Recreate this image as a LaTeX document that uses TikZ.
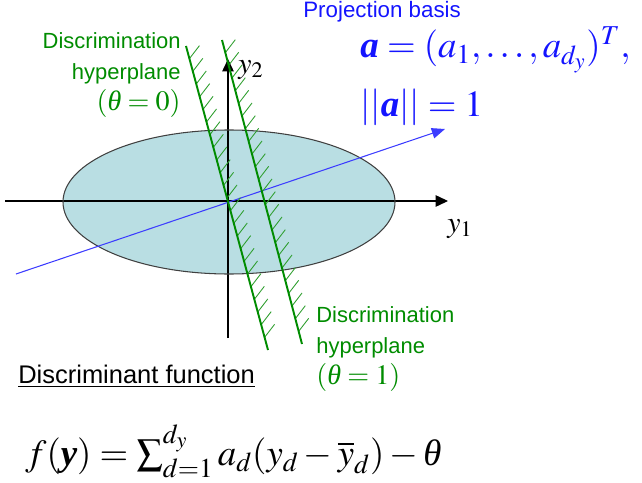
\documentclass[tikz,border=0pt]{standalone}
\usepackage{mathptmx}
\usepackage{amsmath}
\usepackage[no-math]{fontspec}
\setsansfont{Liberation Sans}
\newfontfamily\tnrfont{Liberation Serif}
\usetikzlibrary{arrows.meta,calc}
\usepackage{xcolor}
\definecolor{dhGreen}{HTML}{008C00}
\definecolor{dhHatch}{HTML}{2E9E2E}
\definecolor{dhBlue}{HTML}{1414FF}
\definecolor{dhLine}{HTML}{3C3CFF}
\definecolor{dhFill}{HTML}{B9DEE3}
\definecolor{dhEdge}{HTML}{404040}
\newcommand{\bfit}[1]{\mbox{\tnrfont\bfseries\itshape #1}}
\newcommand{\thit}{\mbox{\tnrfont\itshape θ}}

\begin{document}
\begin{tikzpicture}[x=0.02cm, y=-0.02cm,
  axis/.style={-{Triangle[length=7pt,width=6.5pt]}, line width=0.6pt, black},
  basis/.style={-{Triangle[length=7.5pt,width=6pt]}, line width=0.6pt, dhLine},
  plane/.style={line width=1.1pt, dhGreen},
  hatch/.style={line width=0.5pt, dhHatch},
  lbl/.style={inner sep=0pt, font={\fontsize{12.5}{17.6}\selectfont\sffamily}, text=dhGreen},
  mth/.style={inner sep=0pt, font={\fontsize{#1}{#1}\selectfont}}]
\useasboundingbox (0,0) rectangle (642,483);
% axes and data cloud
\coordinate (o) at (228,201);
\coordinate (xl) at (5,201);
\coordinate (xr) at (448,201);
\coordinate (yb) at (228,338);
\coordinate (yt) at (228,59);
\fill[dhFill] (229,202) ellipse (166 and 72);
\draw[axis] (xl) -- (xr);
\draw[axis] (yb) -- (yt);
\draw[dhEdge, line width=0.6pt] (229,202) ellipse (166 and 72);
\node[mth=17, anchor=base west] (ytwo) at (238,73) {$y_2$};
\node[mth=17, anchor=base west] (yone) at (447,232) {$y_1$};
% projection direction
\coordinate (bl) at (16,274);
\coordinate (br) at (445,129);
\draw[basis] (bl) -- (br);
% hyperplanes with hatching
\coordinate (p0a) at (186,46);
\coordinate (p0b) at (268,350);
\coordinate (p1a) at (222,40);
\coordinate (p1b) at (302,344);
\foreach \t in {1,...,23}{
  \draw[hatch] ($(p0a)!{\t/24}!(p0b)$) -- ++(10,-13);
  \draw[hatch] ($(p1a)!{\t/24}!(p1b)$) -- ++(10,-13);
}
\draw[plane] (p0a) -- (p0b);
\draw[plane] (p1a) -- (p1b);
\node[lbl, align=right, anchor=north east] (plane0) at (181,32)
  {Discrimination\\hyperplane\\{\fontsize{16}{17.6}\selectfont$(\thit=0)$}};
\node[lbl, align=left, anchor=north west] (plane1) at (316,306)
  {Discrimination\\hyperplane\\{\fontsize{16}{17.6}\selectfont$(\thit=1)$}};
% basis vector
\node[inner sep=0pt, anchor=base west, text=dhBlue, font={\fontsize{12.7}{14}\selectfont\sffamily}] (ptitle) at (303,18) {Projection basis};
\node[mth=21, anchor=base west, text=dhBlue] (avec) at (360,58) {$\bfit{a} = (a_1,\ldots,a_{d_y})^T,$};
\node[mth=21, anchor=base west, text=dhBlue] (anorm) at (360,116) {$||\bfit{a}|| = 1$};
% discriminant function
\node[inner sep=0pt, anchor=base west, font={\fontsize{14.5}{16}\selectfont\sffamily}] (ftitle) at (18,383) {\underline{Discriminant function}};
\node[mth=21, anchor=base west] (fdef) at (25,465)
  {$f(\bfit{y}) = \textstyle\sum_{d=1}^{d_y} a_d(y_d-\overline{y}_d)-\thit$};
\end{tikzpicture}
\end{document}
